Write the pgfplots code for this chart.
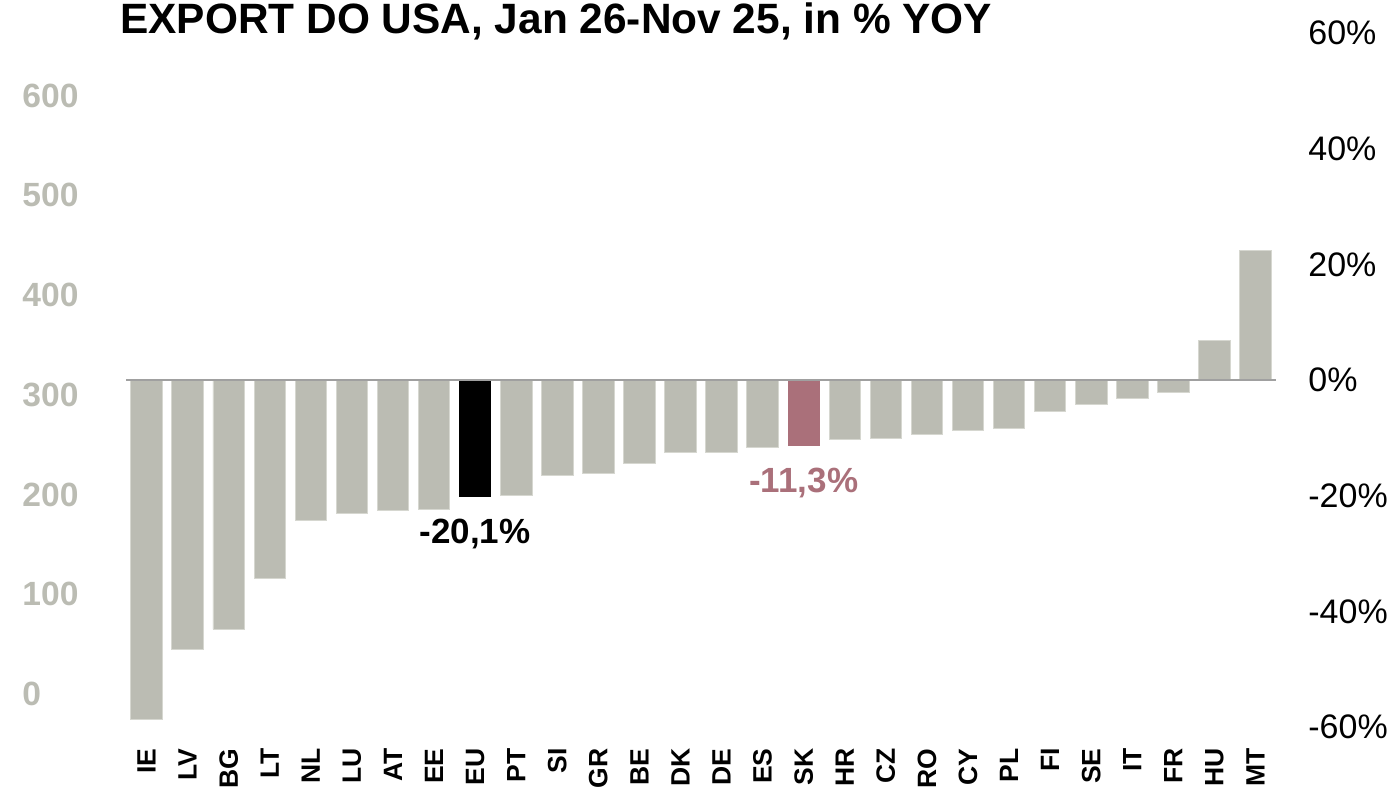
\documentclass[border=0pt]{standalone}
\usepackage{pgfplots}
\usepackage{pgfplotstable}
\pgfplotsset{compat=1.18}
\usepackage{fontspec}
\setmainfont{Liberation Sans}
\definecolor{bargray}{RGB}{187,188,179}
\definecolor{baredge}{RGB}{214,215,208}
\definecolor{skrose}{RGB}{170,112,122}
\definecolor{zline}{RGB}{160,160,160}

\pgfplotstableread{
x v
0 -58.6
1 -46.6
2 -43.1
3 -34.3
4 -24.2
5 -23.1
6 -22.6
7 -22.3
9 -19.9
10 -16.5
11 -16.2
12 -14.5
13 -12.6
14 -12.5
15 -11.6
17 -10.3
18 -10.1
19 -9.4
20 -8.7
21 -8.3
22 -5.4
23 -4.2
24 -3.1
25 -2.1
26 6.8
27 22.4
}\graydata
\pgfplotstableread{
x v
8 -20.1
}\eudata
\pgfplotstableread{
x v
16 -11.3
}\skdata

\begin{document}
\begin{tikzpicture}
% left (secondary) scale
\begin{axis}[
  at={(63pt,30.5pt)}, anchor=south west, scale only axis,
  width=575pt, height=347pt,
  xmin=-0.5, xmax=27.5, ymin=-33.1, ymax=662.7,
  enlargelimits=false,
  xtick=\empty,
  ytick={0,100,200,300,400,500,600},
  yticklabels={0,100,200,300,400,500,600},
  yticklabel style={anchor=west, inner sep=0pt, xshift=-52pt,
    font=\fontsize{16.8}{16.8}\selectfont\bfseries, text=bargray},
  major tick length=0pt,
  separate axis lines, axis line style={draw=none},
]
\end{axis}
% main axis
\begin{axis}[
  at={(63pt,30.5pt)}, anchor=south west, scale only axis,
  width=575pt, height=347pt,
  xmin=-0.5, xmax=27.5, ymin=-60, ymax=60,
  enlargelimits=false,
  ybar, bar width=15.75pt,
  xtick={0,...,27},
  xticklabels={IE,LV,BG,LT,NL,LU,AT,EE,EU,PT,SI,GR,BE,DK,DE,ES,SK,HR,CZ,RO,CY,PL,FI,SE,IT,FR,HU,MT},
  xticklabel style={rotate=90, anchor=east, inner sep=0pt,
    font=\fontsize{13.25}{13.25}\selectfont\bfseries},
  xticklabel shift=10.5pt,
  ytick={-60,-40,-20,0,20,40,60},
  yticklabels={-60\%,-40\%,-20\%,0\%,20\%,40\%,60\%},
  yticklabel pos=right,
  yticklabel style={anchor=west, inner sep=0pt, xshift=16pt,
    font=\fontsize{17}{17}\selectfont},
  major tick length=0pt,
  separate axis lines, axis line style={draw=none},
]
\addplot[fill=bargray, draw=baredge, line width=0.4pt, bar shift=0pt] table[x=x,y=v]{\graydata};
\addplot[fill=black, draw=black, line width=0.4pt, bar shift=0pt] table[x=x,y=v]{\eudata};
\addplot[fill=skrose, draw=skrose, line width=0.4pt, bar shift=0pt] table[x=x,y=v]{\skdata};
\draw[zline, line width=0.9pt] (axis cs:-0.5,0) -- (axis cs:27.5,0);
\node[anchor=north, inner sep=0pt, yshift=-11pt, font=\fontsize{17.5}{17.5}\selectfont\bfseries] at (axis cs:8,-20.1) {-20,1\%};
\node[anchor=north, inner sep=0pt, yshift=-11pt, text=skrose, font=\fontsize{17.5}{17.5}\selectfont\bfseries] at (axis cs:16,-11.3) {-11,3\%};
\end{axis}
\node[anchor=base west, inner sep=0pt, font=\fontsize{21.2}{21.2}\selectfont\bfseries] at (60pt,377pt) {EXPORT DO USA, Jan 26-Nov 25, in \% YOY};
\pgfresetboundingbox
\useasboundingbox (0,0) rectangle (698pt,394pt);
\end{tikzpicture}
\end{document}
